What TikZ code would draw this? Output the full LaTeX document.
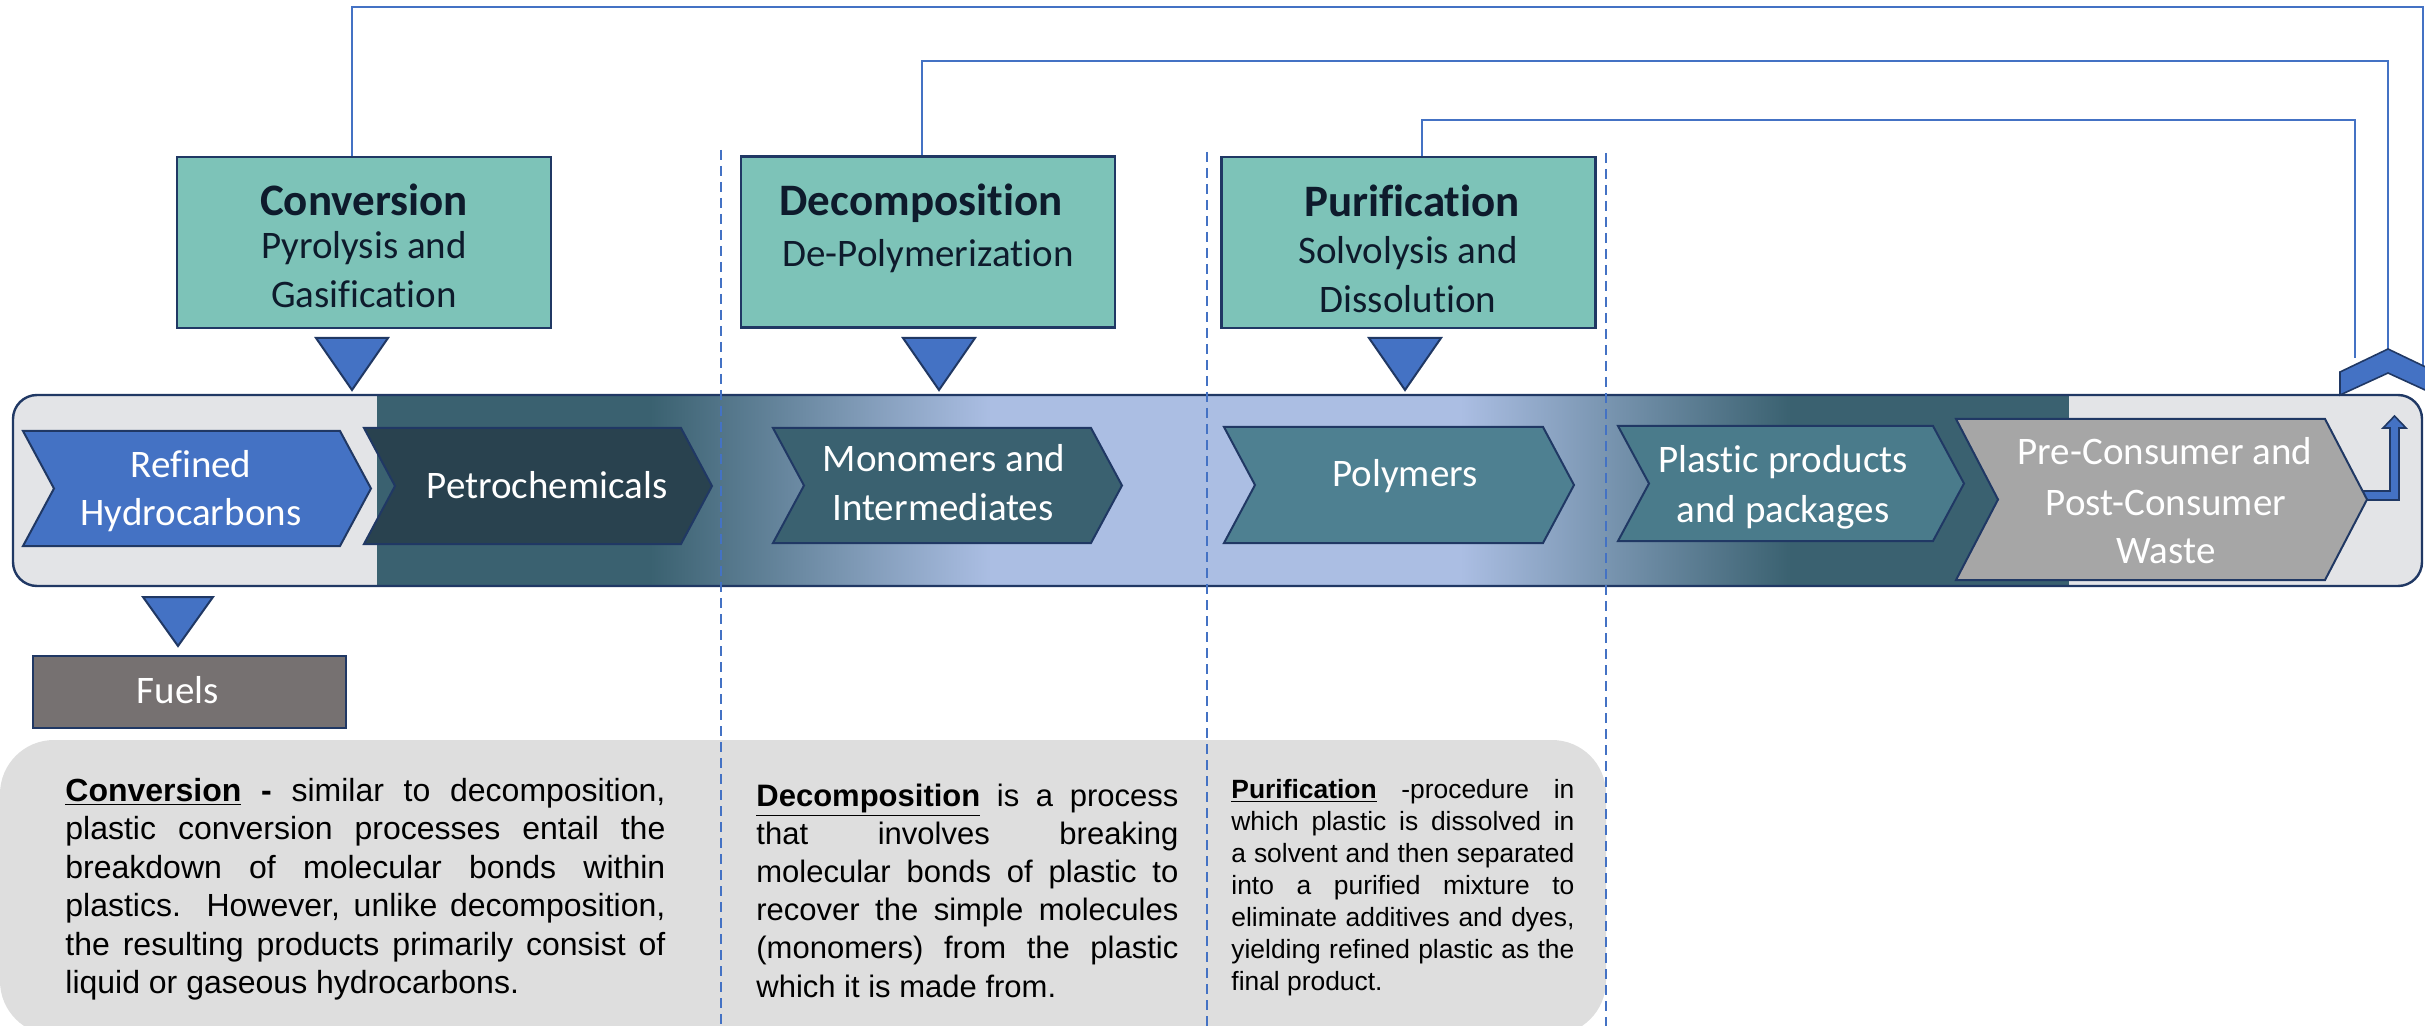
\documentclass[tikz,border=0pt]{standalone}
\usepackage{fontspec}
\setmainfont{Carlito}[Ligatures={NoCommon}]
\newfontfamily\arialf{Liberation Sans}
\definecolor{navy}{HTML}{203864}
\definecolor{tealbox}{HTML}{7DC3B8}
\definecolor{offblue}{HTML}{4472C4}
\definecolor{bandgray}{HTML}{E3E4E7}
\definecolor{banddark}{HTML}{3A6170}
\definecolor{bandlight}{HTML}{ABBEE3}
\definecolor{petro}{HTML}{29424F}
\definecolor{mono}{HTML}{3A6170}
\definecolor{poly}{HTML}{4E8091}
\definecolor{plast}{HTML}{4A7B8B}
\definecolor{waste}{HTML}{A6A6A6}
\definecolor{fuelc}{HTML}{767171}
\definecolor{panelc}{HTML}{DEDEDE}
\definecolor{boxtext}{HTML}{0E1B2C}
\newcommand{\mychev}[6]{%
  \filldraw[fill=#6, draw=navy, line width=1pt, line join=miter]
    (#1,#3) -- ({#2-#5},#3) -- (#2,{(#3+#4)/2}) -- ({#2-#5},#4) -- (#1,#4) -- ({#1+#5},{(#3+#4)/2}) -- cycle;}
\newcommand{\mytri}[4]{%
  \filldraw[fill=offblue, draw=navy, line width=1pt, line join=miter]
    ({#1-#4},#2) -- ({#1+#4},#2) -- (#1,#3) -- cycle;}
\newcommand{\jl}[1]{\makebox[\linewidth][s]{#1}\\}
\begin{document}
\begin{tikzpicture}[x=0.5pt,y=-0.5pt,
  procbox/.style={draw=navy, line width=1.2pt, fill=tealbox, minimum width=187pt, minimum height=85.5pt, inner sep=0pt},
  boxtitle/.style={anchor=base, inner sep=0pt, text=boxtext, font=\fontsize{22.5}{27}\selectfont\bfseries},
  boxsub/.style={anchor=base, inner sep=0pt, text=boxtext, font=\fontsize{19.5}{24}\selectfont},
  chevtext/.style={anchor=base, inner sep=0pt, text=white, font=\fontsize{19.5}{24}\selectfont},
  conn/.style={draw=offblue, line width=1.2pt},
  sepline/.style={draw=offblue, line width=1.1pt, dash pattern=on 5pt off 3pt},
  paneltext/.style={anchor=base west, inner sep=0pt, text=black}]
\useasboundingbox (0,0) rectangle (2425,1026);
\clip (0,0) rectangle (2425,1026);
\fill[white] (0,0) rectangle (2425,1026);

% bottom text panel
\fill[panelc, rounded corners=27pt] (0,740) rectangle (1606,1035);

% band
\begin{scope}
  \clip[rounded corners=12pt] (13,395) rectangle (2422,586);
  \fill[bandgray] (0,380) rectangle (378,600);
  \fill[banddark] (377,380) rectangle (651,600);
  \shade[left color=banddark, right color=bandlight] (650,380) rectangle (991,600);
  \fill[bandlight] (990,380) rectangle (1461,600);
  \shade[left color=bandlight, right color=banddark] (1460,380) rectangle (1791,600);
  \fill[banddark] (1790,380) rectangle (2070,600);
  \fill[bandgray] (2069,380) rectangle (2430,600);
\end{scope}
\draw[navy, line width=1.2pt, rounded corners=12pt] (13,395) rectangle (2422,586);

% bent arrow from waste back up
\filldraw[fill=offblue, draw=navy, line width=0.8pt, line join=miter]
  (2360,491) -- (2390,491) -- (2390,428) -- (2383,428) -- (2394.5,416) -- (2406,428) -- (2399,428) -- (2399,500) -- (2360,500) -- cycle;

% chevrons
\mychev{23}{371}{431}{546}{31}{offblue}
\mychev{364}{712}{428}{544}{31}{petro}
\mychev{773}{1122}{428}{543}{31}{mono}
\mychev{1224}{1574}{427}{543}{31}{poly}
\mychev{1618}{1964}{426}{541}{31}{plast}
\mychev{1956}{2367}{419}{580}{42}{waste}

% process boxes
\node[procbox] (conv) at (364,242.5) {};
\node[procbox] (decomp) at (928,242) {};
\node[procbox] (purif) at (1408.5,242.5) {};

% triangles
\mytri{352}{338}{390}{36}
\mytri{939}{338}{390}{36}
\mytri{1405}{338}{390}{36}
\mytri{178}{597}{646}{35}

% fuels
\node[draw=navy, line width=1.2pt, fill=fuelc, minimum width=156.5pt, minimum height=36pt, inner sep=0pt] (fuels) at (189.5,692) {};
\node[chevtext] (fuelsT) at (178,703) {Fuels};

% return connectors
\coordinate (ret1) at (2423,366);
\coordinate (ret2) at (2388,350);
\coordinate (ret3) at (2355,358);
\draw[conn] ([xshift=-6pt]conv.north) -- ++(0,-149) -| (ret1);
\draw[conn] ([xshift=-3pt]decomp.north) -- ++(0,-94.5) -| (ret2);
\draw[conn] ([xshift=6.75pt]purif.north) -- ++(0,-36) -| (ret3);

% return chevron
\filldraw[fill=offblue, draw=navy, line width=0.8pt, line join=miter]
  (2340,372) -- (2388,349) -- (2436,372) -- (2436,395) -- (2388,373) -- (2340,395) -- cycle;

% dashed separators
\draw[sepline] (721,150) -- (721,1030);
\draw[sepline] (1207,152) -- (1207,1030);
\draw[sepline] (1606,153) -- (1606,1030);

% box texts
\node[boxtitle] (convT) at (364,216) {Conversion};
\node[boxsub] (convS1) at (364,259) {Pyrolysis and};
\node[boxsub] (convS2) at (364,308) {Gasification};
\node[boxtitle] (decT) at (921,216) {Decomposition};
\node[boxsub] (decS1) at (928,267) {De-Polymerization};
\node[boxtitle] (purT) at (1412,217) {Purification};
\node[boxsub] (purS1) at (1408,264) {Solvolysis and};
\node[boxsub] (purS2) at (1408,313) {Dissolution};

% chevron texts
\node[chevtext] (ref1) at (191,477) {Refined};
\node[chevtext] (ref2) at (191,525) {Hydrocarbons};
\node[chevtext] (petT) at (547,498) {Petrochemicals};
\node[chevtext] (mon1) at (944,472) {Monomers and};
\node[chevtext] (mon2) at (943,520) {Intermediates};
\node[chevtext] (polT) at (1405,487) {Polymers};
\node[chevtext] (pla1) at (1783,473) {Plastic products};
\node[chevtext] (pla2) at (1783,523) {and packages};
\node[chevtext] (was1) at (2165,465) {Pre-Consumer and};
\node[chevtext] (was2) at (2166,515) {Post-Consumer};
\node[chevtext] (was3) at (2166,563) {Waste};

% panel texts
\node[paneltext] (convtxt) at (65,801) {\parbox[t]{300pt}{\arialf\fontsize{16}{19.25}\selectfont
\jl{\underline{\textbf{Conversion}} \textbf{-} similar to decomposition,}
\jl{plastic conversion processes entail the}
\jl{breakdown of molecular bonds within}
\jl{plastics.\ \ However, unlike decomposition,}
\jl{the resulting products primarily consist of}
liquid or gaseous hydrocarbons.}};

\node[paneltext] (dectxt) at (756,806) {\parbox[t]{211pt}{\arialf\fontsize{15.5}{19.1}\selectfont
\jl{\underline{\textbf{Decomposition}} is a process}
\jl{that involves breaking}
\jl{molecular bonds of plastic to}
\jl{recover the simple molecules}
\jl{(monomers) from the plastic}
which it is made from.}};

\node[paneltext] (purtxt) at (1231,798) {\parbox[t]{171.5pt}{\arialf\fontsize{13.2}{16}\selectfont
\jl{\underline{\textbf{Purification}} -procedure in}
\jl{which plastic is dissolved in}
\jl{a solvent and then separated}
\jl{into a purified mixture to}
\jl{eliminate additives and dyes,}
\jl{yielding refined plastic as the}
final product.}};
\end{tikzpicture}
\end{document}
